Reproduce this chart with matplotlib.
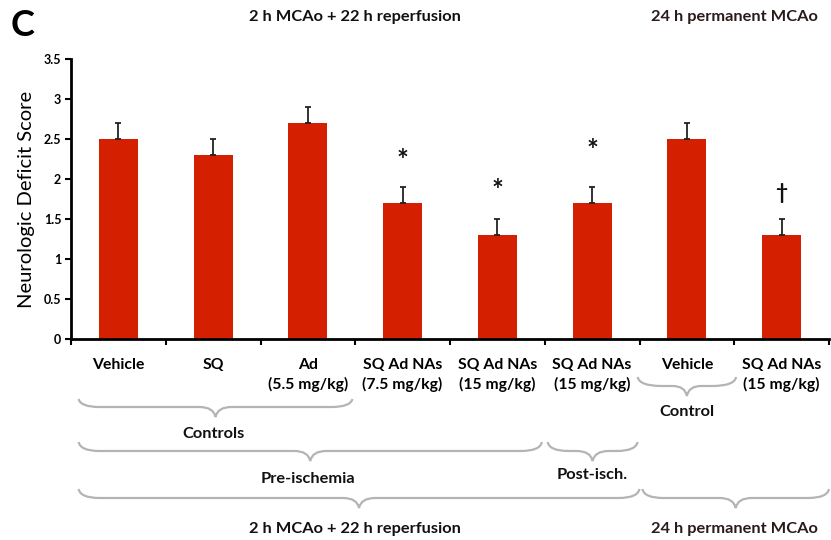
import numpy as np
import matplotlib
matplotlib.use("Agg")
from matplotlib import pyplot as plt
from matplotlib.path import Path
from matplotlib.patches import PathPatch
from matplotlib.transforms import blended_transform_factory

plt.rcParams['font.family'] = ['Lato', 'DejaVu Sans']

groups = ["Vehicle", "SQ", "Ad\n(5.5 mg/kg)", "SQ Ad NAs\n(7.5 mg/kg)",
          "SQ Ad NAs\n(15 mg/kg)", "SQ Ad NAs\n(15 mg/kg)", "Vehicle",
          "SQ Ad NAs\n(15 mg/kg)"]
scores = [2.5, 2.3, 2.7, 1.7, 1.3, 1.7, 2.5, 1.3]
sem = [0.2, 0.2, 0.2, 0.2, 0.2, 0.2, 0.2, 0.2]
marks = {3: ("*", 2.22), 4: ("*", 1.85), 5: ("*", 2.35), 7: ("\u2020", 1.82)}
yticks = [0, 0.5, 1, 1.5, 2, 2.5, 3, 3.5]

W, H = 831, 540
fig = plt.figure(figsize=(W / 100, H / 100), dpi=100)
ax = fig.add_axes([71 / W, 1 - 339 / H, 758 / W, 280 / H])

x = np.arange(len(scores))
ax.bar(x, scores, width=0.41, color='#d42000', zorder=2)
ax.errorbar(x, scores, yerr=[np.zeros(len(sem)), sem], fmt='none',
            ecolor='#222222', elinewidth=1.3, capsize=2.5, capthick=1.3, zorder=3)

for i, (sym, ypos) in marks.items():
    size = 20 if sym == "*" else 15
    ax.text(x[i], ypos, sym, ha='center', va='center', fontsize=size,
            fontweight='bold', color='#111111')

ax.set_xlim(-0.5, len(scores) - 0.5)
ax.set_ylim(0, 3.5)
ax.set_yticks(yticks)
ax.set_yticklabels([f"{t:g}" for t in yticks], fontsize=9, fontweight='bold')
ax.set_xticks(np.arange(-0.5, len(scores)))
ax.set_xticklabels([])
ax.tick_params(axis='both', direction='out', length=4, width=1.5, color='black')
ax.tick_params(axis='y', pad=3)
for side in ('top', 'right'):
    ax.spines[side].set_visible(False)
for side in ('left', 'bottom'):
    ax.spines[side].set_linewidth(2)
ax.set_ylabel("Neurologic Deficit Score", fontsize=14.5, labelpad=6)

# everything below the axis: x in data units, y in figure pixels from the top
tr = blended_transform_factory(ax.transData, fig.transFigure)


def fy(py):
    return 1 - py / H


for i, name in enumerate(groups):
    ax.text(x[i], fy(358), name, transform=tr, ha='center', va='top',
            fontsize=11.3, fontweight='bold', linespacing=1.4)


def brace(x0, x1, top, mid, tip, r=0.22, rc=0.17):
    xc = (x0 + x1) / 2
    yt, ym, yp = fy(top), fy(mid), fy(tip)
    verts = [(x0, yt), (x0 + 0.02, ym), (x0 + r, ym),
             (xc - rc, ym), (xc - 0.02, ym), (xc, yp),
             (xc + 0.02, ym), (xc + rc, ym),
             (x1 - r, ym), (x1 - 0.02, ym), (x1, yt)]
    codes = [Path.MOVETO, Path.CURVE3, Path.CURVE3,
             Path.LINETO, Path.CURVE3, Path.CURVE3,
             Path.CURVE3, Path.CURVE3,
             Path.LINETO, Path.CURVE3, Path.CURVE3]
    ax.add_patch(PathPatch(Path(verts, codes), transform=tr, fill=False,
                           edgecolor='#b4b4b4', lw=1.6, clip_on=False))


def label(xc, py, s, color='#111111'):
    ax.text(xc, fy(py), s, transform=tr, ha='center', va='center',
            fontsize=11.8, fontweight='bold', color=color)


brace(-0.42, 2.47, 399, 407, 417)
label(1.0, 434, "Controls")
brace(-0.42, 4.47, 442, 451, 461)
label(2.0, 479, "Pre-ischemia")
brace(4.53, 5.48, 442, 451, 461)
label(5.0, 475, "Post-isch.")
brace(5.48, 6.52, 377, 386, 396, r=0.25, rc=0.15)
label(6.0, 412, "Control")
brace(-0.42, 5.5, 489, 498, 508)
brace(5.53, 7.5, 489, 498, 508)

for py in (17, 529):
    label(2.5, py, "2 h MCAo + 22 h reperfusion")
    label(6.5, py, "24 h permanent MCAo", color='#2a1a1a')

fig.text(11 / W, fy(25), "C", fontsize=26, fontweight='bold', va='center')

fig.savefig("out.png", dpi=100, facecolor='white')
